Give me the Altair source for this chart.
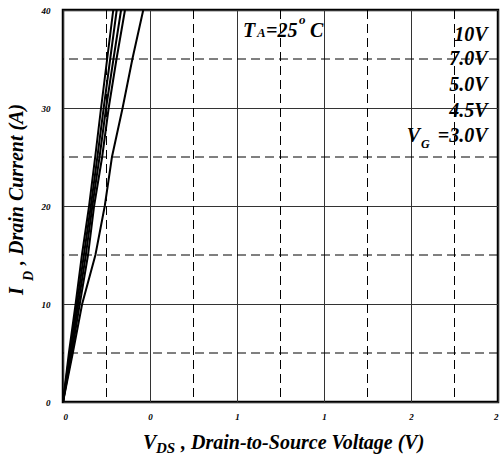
import altair as alt
import pandas as pd

# ---- data ----
series_names = ["10V", "7.0V", "5.0V", "4.5V", "3.0V"]
drain_current = [0, 5, 10, 15, 20, 25, 30, 35, 40]
vds_10v = [0, 0.027, 0.058, 0.087, 0.120, 0.148, 0.175, 0.203, 0.231]
vds_7v = [0, 0.031, 0.064, 0.096, 0.128, 0.158, 0.187, 0.217, 0.247]
vds_5v = [0, 0.035, 0.070, 0.105, 0.135, 0.168, 0.198, 0.232, 0.267]
vds_45v = [0, 0.040, 0.077, 0.115, 0.143, 0.180, 0.210, 0.246, 0.285]
vds_3v = [0, 0.045, 0.088, 0.149, 0.192, 0.225, 0.274, 0.319, 0.369]

x_major = [0, 0.4, 0.8, 1.2, 1.6, 2.0]
x_minor = [0.2, 0.6, 1.0, 1.4, 1.8]
y_major = [0, 10, 20, 30, 40]
y_minor = [5, 15, 25, 35]

rows = []
for name, vals in zip(series_names, [vds_10v, vds_7v, vds_5v, vds_45v, vds_3v]):
    for i_d, v in zip(drain_current, vals):
        rows.append({"series": name, "ID": i_d, "VDS": v})
df = pd.DataFrame(rows)

FONT = "Liberation Serif"
xs = alt.Scale(domain=[0, 2], nice=False, zero=False)
ys = alt.Scale(domain=[0, 40], nice=False, zero=False)

axis_common = dict(
    grid=True, gridColor="#333333", gridWidth=1, ticks=False,
    domain=False, labelFont=FONT, labelFontSize=9, labelFontStyle="italic",
    labelFontWeight="bold", labelColor="black", title="",
)
x_axis = alt.Axis(values=x_major, format=".0f", labelPadding=10, **axis_common)
y_axis = alt.Axis(values=y_major, format="d", labelPadding=13, **axis_common)

lines = alt.Chart(df).mark_line(color="black", strokeWidth=2).encode(
    x=alt.X("VDS:Q", scale=xs, axis=x_axis, title=""),
    y=alt.Y("ID:Q", scale=ys, axis=y_axis, title=""),
    detail="series:N",
    order="ID:Q",
)

vminor = alt.Chart(pd.DataFrame({"VDS": x_minor})).mark_rule(
    color="black", strokeWidth=1, strokeDash=[9, 5]
).encode(x=alt.X("VDS:Q", scale=xs, axis=x_axis, title=""))

hminor = alt.Chart(pd.DataFrame({"ID": y_minor})).mark_rule(
    color="black", strokeWidth=1, strokeDash=[9, 5]
).encode(y=alt.Y("ID:Q", scale=ys, axis=y_axis, title=""))


def txt(s, x, y, size, angle=0, align="left"):
    return alt.Chart(alt.Data(values=[{"a": 1}])).mark_text(
        text=s, font=FONT, fontSize=size, fontStyle="italic", fontWeight="bold",
        align=align, baseline="alphabetic", angle=angle, color="black",
    ).encode(x=alt.value(x), y=alt.value(y))


labels = [
    txt("10V", 424.5, 30.7, 20, align="right"),
    txt("7.0V", 424.5, 55, 20, align="right"),
    txt("5.0V", 424.5, 80.7, 20, align="right"),
    txt("4.5V", 424.5, 106.5, 20, align="right"),
    txt("=3.0V", 424.5, 131.5, 20, align="right"),
    txt("V", 343.7, 131.5, 20),
    txt("G", 358, 138, 12),
    # T_A = 25 o C
    txt("T", 180, 26.7, 20),
    txt("A", 194, 26.5, 13),
    txt("=25", 203, 26.7, 20),
    txt("o", 236, 14, 13),
    txt("C", 247, 26.7, 20),
    # x title
    txt("V", 80, 439, 20),
    txt("DS", 93, 443, 15),
    txt(", Drain-to-Source Voltage (V)", 118, 439, 20),
    # y title
    txt("I", -40.5, 285, 20, angle=270),
    txt("D", -30, 271, 14, angle=270),
    txt(", Drain Current (A)", -40.5, 255, 20, angle=270),
]

chart = alt.layer(lines, vminor, hminor, *labels).properties(
    width=435, height=392,
    autosize=alt.AutoSizeParams(type="none"),
    padding={"left": 63, "top": 10, "right": 2, "bottom": 60},
    background="white",
).configure_view(stroke="black", strokeWidth=2.5)

chart.save("out.html", embed_options={"renderer": "svg", "actions": False})
